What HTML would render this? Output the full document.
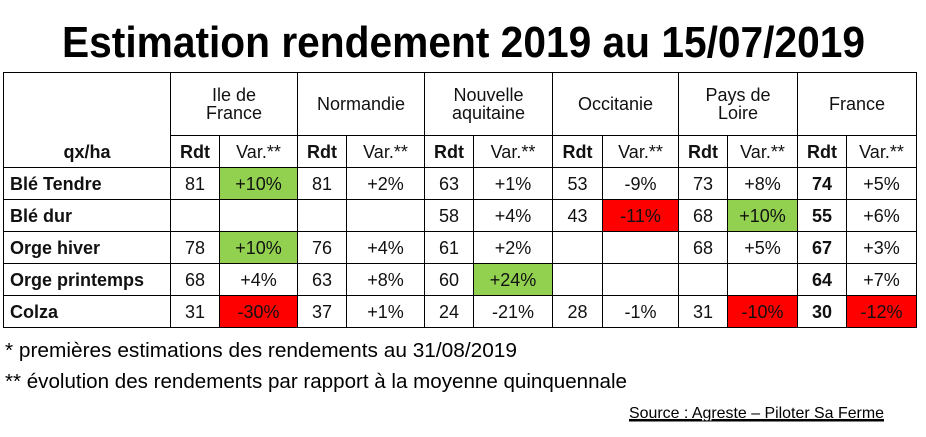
<!DOCTYPE html>
<html><head><meta charset="utf-8">
<style>
html,body{margin:0;padding:0;background:#fff;}
body{width:926px;height:437px;position:relative;overflow:hidden;font-family:"Liberation Sans",sans-serif;}
svg.t{position:absolute;left:0;top:0;}
table{position:absolute;left:3px;top:72px;border-collapse:collapse;table-layout:fixed;font-size:18px;color:#111;}
td{border:1px solid #000;padding:0;text-align:center;height:31px;line-height:18px;}
td.lab{text-align:left;padding-left:6px;font-weight:bold;}
.g{background:#92d050;}
.r{background:#ff0000;}
.b{font-weight:bold;}
tr.h1 td{height:62px;}
tr.h2 td{height:31px;}
</style></head><body>
<svg class="t" width="926" height="437">
<text x="62" y="57" font-family="Liberation Sans, sans-serif" font-weight="bold" font-size="44" textLength="803" lengthAdjust="spacingAndGlyphs">Estimation rendement 2019 au 15/07/2019</text>
<text x="5" y="357" font-family="Liberation Sans, sans-serif" font-size="20" textLength="512" lengthAdjust="spacingAndGlyphs">* premières estimations des rendements au 31/08/2019</text>
<text x="5" y="388" font-family="Liberation Sans, sans-serif" font-size="20" textLength="622" lengthAdjust="spacingAndGlyphs">** évolution des rendements par rapport à la moyenne quinquennale</text>
<text x="629" y="418" font-family="Liberation Sans, sans-serif" font-size="16" textLength="255" lengthAdjust="spacingAndGlyphs" text-decoration="underline">Source : Agreste – Piloter Sa Ferme</text>
<line x1="629" y1="421" x2="884" y2="421" stroke="#000" stroke-width="1"/>
</svg>
<table>
<colgroup>
<col style="width:167px"><col style="width:49px"><col style="width:78px"><col style="width:49px"><col style="width:78px"><col style="width:49px"><col style="width:79px"><col style="width:50px"><col style="width:76px"><col style="width:49px"><col style="width:70px"><col style="width:49px"><col style="width:70px">
</colgroup>
<tr class="h1">
<td rowspan="2" style="vertical-align:bottom;padding-bottom:6px;font-weight:bold">qx/ha</td>
<td colspan="2">Ile de<br>France</td>
<td colspan="2">Normandie</td>
<td colspan="2">Nouvelle<br>aquitaine</td>
<td colspan="2">Occitanie</td>
<td colspan="2">Pays de<br>Loire</td>
<td colspan="2">France</td>
</tr>
<tr class="h2">
<td class="b">Rdt</td><td>Var.**</td><td class="b">Rdt</td><td>Var.**</td><td class="b">Rdt</td><td>Var.**</td><td class="b">Rdt</td><td>Var.**</td><td class="b">Rdt</td><td>Var.**</td><td class="b">Rdt</td><td>Var.**</td>
</tr>
<tr>
<td class="lab">Blé Tendre</td><td>81</td><td class="g">+10%</td><td>81</td><td>+2%</td><td>63</td><td>+1%</td><td>53</td><td>-9%</td><td>73</td><td>+8%</td><td class="b">74</td><td>+5%</td>
</tr>
<tr>
<td class="lab">Blé dur</td><td></td><td></td><td></td><td></td><td>58</td><td>+4%</td><td>43</td><td class="r">-11%</td><td>68</td><td class="g">+10%</td><td class="b">55</td><td>+6%</td>
</tr>
<tr>
<td class="lab">Orge hiver</td><td>78</td><td class="g">+10%</td><td>76</td><td>+4%</td><td>61</td><td>+2%</td><td></td><td></td><td>68</td><td>+5%</td><td class="b">67</td><td>+3%</td>
</tr>
<tr>
<td class="lab">Orge printemps</td><td>68</td><td>+4%</td><td>63</td><td>+8%</td><td>60</td><td class="g">+24%</td><td></td><td></td><td></td><td></td><td class="b">64</td><td>+7%</td>
</tr>
<tr>
<td class="lab">Colza</td><td>31</td><td class="r">-30%</td><td>37</td><td>+1%</td><td>24</td><td>-21%</td><td>28</td><td>-1%</td><td>31</td><td class="r">-10%</td><td class="b">30</td><td class="r">-12%</td>
</tr>
</table>
</body></html>
